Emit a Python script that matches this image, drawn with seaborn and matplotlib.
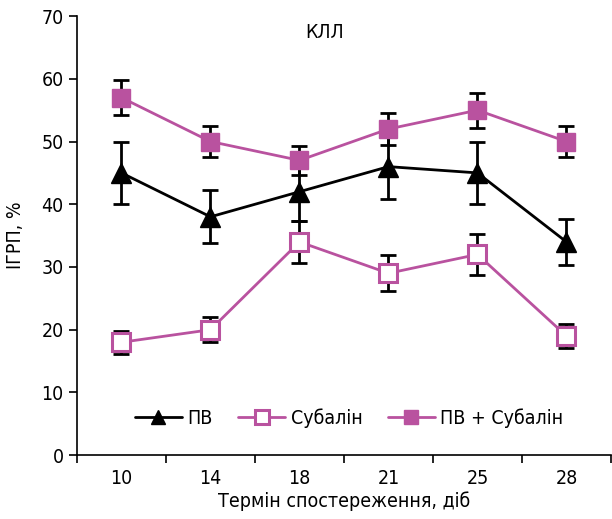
import matplotlib
matplotlib.use("Agg")
import matplotlib.pyplot as plt
import seaborn as sns
import pandas as pd
import numpy as np

# Дані
terminy = ["10", "14", "18", "21", "25", "28"]
pv = [45, 38, 42, 46, 45, 34]
pv_err = [5.0, 4.2, 4.6, 5.1, 5.0, 3.7]
subalin = [18, 20, 34, 29, 32, 19]
subalin_err = [1.8, 2.0, 3.4, 2.9, 3.2, 1.9]
pv_subalin = [57, 50, 47, 52, 55, 50]
pv_subalin_err = [2.8, 2.5, 2.3, 2.6, 2.8, 2.5]

seriyi = ["ПВ", "Субалін", "ПВ + Субалін"]
MAGENTA = "#b9529f"

sns.set_style("ticks")
plt.rcParams["font.family"] = ["Liberation Sans Narrow", "DejaVu Sans"]
plt.rcParams["font.stretch"] = "condensed"
for k in ["text.color", "axes.labelcolor", "xtick.color", "ytick.color", "axes.edgecolor"]:
    plt.rcParams[k] = "black"

df = pd.DataFrame({
    "x": list(range(len(terminy))) * 3,
    "value": pv + subalin + pv_subalin,
    "err": pv_err + subalin_err + pv_subalin_err,
    "series": [s for s in seriyi for _ in terminy],
})

fig = plt.figure(figsize=(6.12, 5.19), dpi=100)
ax = fig.add_axes([0.1258, 0.123, 0.8725, 0.846])

# планки похибок (чорні, під маркерами)
for s in seriyi:
    d = df[df["series"] == s]
    ax.errorbar(d["x"], d["value"], yerr=d["err"], fmt="none",
                ecolor="black", elinewidth=2, capsize=6, capthick=2, zorder=2)

styles = {
    "ПВ": dict(color="black", marker="^", ms=14, mfc="black", mec="black", mew=1),
    "Субалін": dict(color=MAGENTA, marker="s", ms=13, mfc="white", mec=MAGENTA, mew=2.2),
    "ПВ + Субалін": dict(color=MAGENTA, marker="s", ms=13, mfc=MAGENTA, mec=MAGENTA, mew=1),
}
for s in seriyi:
    d = df[df["series"] == s]
    sns.lineplot(data=d, x="x", y="value", ax=ax, lw=2, label=s,
                 zorder=3, **styles[s])

ax.set_xlim(-0.5, len(terminy) - 0.5)
ax.set_ylim(0, 70)
ax.set_yticks(range(0, 71, 10))
ax.set_xticks(np.arange(-0.5, len(terminy), 1.0))
ax.set_xticklabels([])
ax.set_xticks(range(len(terminy)), minor=True)
ax.set_xticklabels(terminy, minor=True)
ax.tick_params(axis="x", which="minor", length=0, pad=10, labelsize=14)
ax.tick_params(axis="x", which="major", length=6, width=1.2, direction="out")
ax.tick_params(axis="y", length=6, width=1.2, labelsize=14)
sns.despine(ax=ax)
for sp in ["left", "bottom"]:
    ax.spines[sp].set_linewidth(1.2)

ax.set_xlabel("Термін спостереження, діб", fontsize=14, labelpad=2)
ax.set_ylabel("ІГРП, %", fontsize=14, labelpad=12)
ax.text(0.464, 0.985, "КЛЛ", transform=ax.transAxes, ha="center", va="top", fontsize=14)

ax.legend(loc="center", bbox_to_anchor=(0.51, 0.084), ncol=3, frameon=False,
          fontsize=14, handlelength=2.4, columnspacing=1.3, handletextpad=0.3,
          markerscale=0.75)

fig.savefig("out.png", dpi=100)
